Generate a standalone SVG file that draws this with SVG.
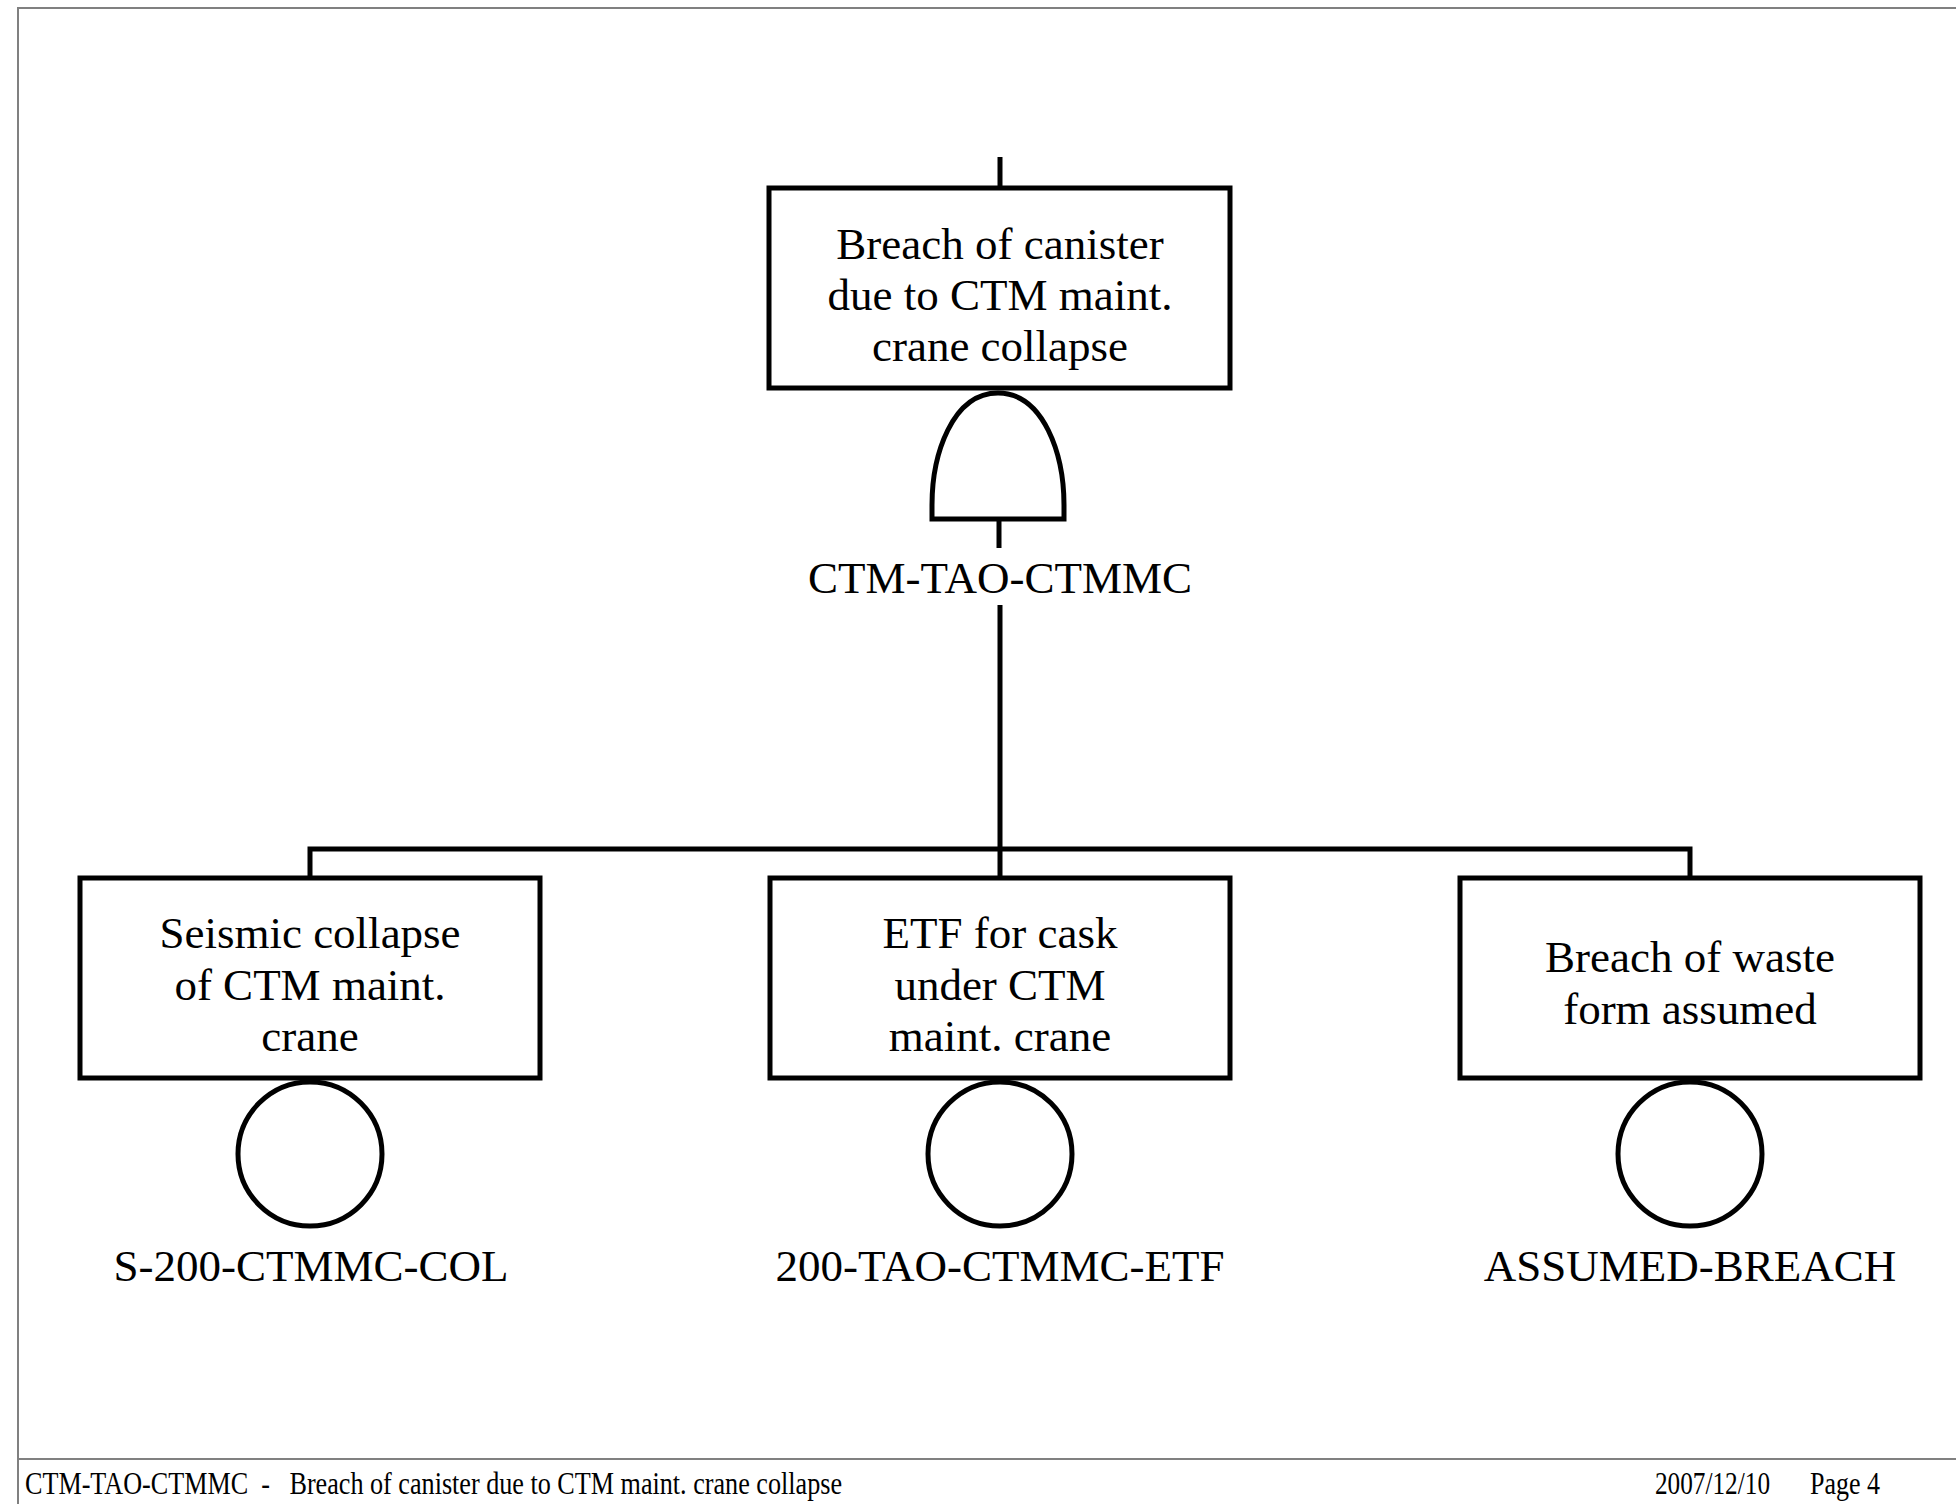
<svg xmlns="http://www.w3.org/2000/svg" width="1956" height="1504" viewBox="0 0 1956 1504">
<style>
.box{fill:#fff;stroke:#000;stroke-width:5}
.ev{fill:#fff;stroke:#000;stroke-width:5}
.ln{fill:none;stroke:#000;stroke-width:5}
.t{font-family:"Liberation Serif","Times New Roman",serif;font-size:45px;fill:#000;text-anchor:middle}
.f{font-family:"Liberation Serif","Times New Roman",serif;font-size:32px;fill:#000}
.frame{fill:none;stroke:#808080;stroke-width:2}
</style>
<rect width="1956" height="1504" fill="#fff"/>
<g id="frame">
<path class="frame" d="M18,1504 V8 H1956"/>
<path class="frame" d="M18,1459 H1956"/>
</g>
<g id="connectors">
<path class="ln" d="M1000,157 V188"/>
<path class="ln" d="M999,519 V548"/>
<path class="ln" d="M1000,605 V878"/>
<path class="ln" d="M310,878 V849 H1690 V878"/>
</g>
<g id="top-event">
<rect class="box" x="769" y="188" width="461" height="200"/>
<text class="t" x="1000" y="259">Breach of canister</text>
<text class="t" x="1000" y="310">due to CTM maint.</text>
<text class="t" x="1000" y="361">crane collapse</text>
</g>
<g id="gate-CTM-TAO-CTMMC">
<path class="ln" d="M932,519 V505 C932,455 952,393 998,393 C1044,393 1064,455 1064,505 V519 Z" fill="#fff"/>
<text class="t" x="1000" y="593">CTM-TAO-CTMMC</text>
</g>
<g id="event-S-200-CTMMC-COL">
<rect class="box" x="80" y="878" width="460" height="200"/>
<text class="t" x="310" y="948">Seismic collapse</text>
<text class="t" x="310" y="1000">of CTM maint.</text>
<text class="t" x="310" y="1051">crane</text>
<circle class="ev" cx="310" cy="1154" r="72"/>
<text class="t" x="311" y="1281">S-200-CTMMC-COL</text>
</g>
<g id="event-200-TAO-CTMMC-ETF">
<rect class="box" x="770" y="878" width="460" height="200"/>
<text class="t" x="1000" y="948">ETF for cask</text>
<text class="t" x="1000" y="1000">under CTM</text>
<text class="t" x="1000" y="1051">maint. crane</text>
<circle class="ev" cx="1000" cy="1154" r="72"/>
<text class="t" x="1000" y="1281">200-TAO-CTMMC-ETF</text>
</g>
<g id="event-ASSUMED-BREACH">
<rect class="box" x="1460" y="878" width="460" height="200"/>
<text class="t" x="1690" y="972">Breach of waste</text>
<text class="t" x="1690" y="1024">form assumed</text>
<circle class="ev" cx="1690" cy="1154" r="72"/>
<text class="t" x="1690" y="1281">ASSUMED-BREACH</text>
</g>
<g id="footer">
<text class="f" x="25" y="1494" textLength="817" lengthAdjust="spacingAndGlyphs" xml:space="preserve">CTM-TAO-CTMMC  -   Breach of canister due to CTM maint. crane collapse</text>
<text class="f" x="1655" y="1494" textLength="115" lengthAdjust="spacingAndGlyphs">2007/12/10</text>
<text class="f" x="1810" y="1494" textLength="70" lengthAdjust="spacingAndGlyphs">Page 4</text>
</g>
</svg>
